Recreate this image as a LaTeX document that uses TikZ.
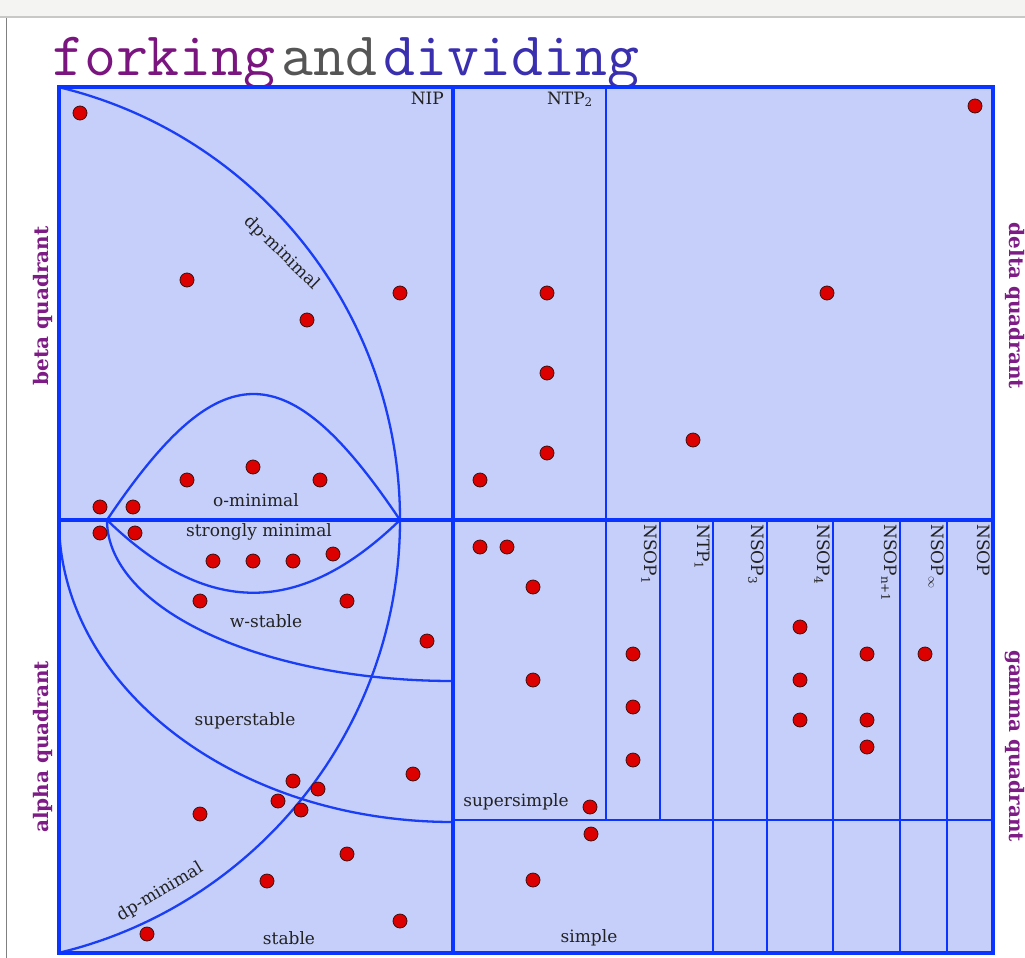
\documentclass[tikz,border=0pt]{standalone}
\usepackage{fontspec}
\setmainfont{DejaVu Serif}
\usetikzlibrary{positioning}
\definecolor{zonefill}{HTML}{C5CFF9}
\definecolor{zoneblue}{HTML}{0A34FF}
\definecolor{curveblue}{HTML}{1A3EF5}
\definecolor{dotred}{HTML}{DD0000}
\definecolor{dotedge}{HTML}{3A1010}
\definecolor{quadpurple}{HTML}{7E1C86}
\definecolor{titlepurple}{HTML}{7A1580}
\definecolor{titlegray}{HTML}{555555}
\definecolor{titleblue}{HTML}{3A2FAE}
\definecolor{labelgray}{HTML}{222222}
\definecolor{chromegray}{HTML}{F4F4F2}
\definecolor{chromeline}{HTML}{C8C8C6}

\begin{document}
\begin{tikzpicture}[x=1pt, y=-1pt,
    frame/.style={draw=zoneblue, line width=4.8pt},
    divider/.style={draw=zoneblue, line width=2.8pt},
    curve/.style={draw=curveblue, line width=2.3pt},
    zone/.style={font=\fontsize{17}{19}\selectfont, text=labelgray, inner sep=1pt},
    prop/.style={zone, rotate=-90, anchor=north west, inner sep=0pt},
    quad/.style={font=\bfseries\fontsize{20}{22}\selectfont, text=quadpurple},
    model/.style={circle, draw=dotedge, fill=dotred, line width=0.8pt, minimum size=14pt, inner sep=0pt}
  ]
    \useasboundingbox (0,0) rectangle (1025,958);
    % window chrome
    \fill[chromegray] (0,0) rectangle (1025,17);
    \draw[chromeline, line width=2pt] (0,17.5) -- (1025,17.5);
    \draw[gray, line width=1pt] (6,18) -- (6,958);

    \node[anchor=base west, inner sep=0pt, font=\ttfamily\fontsize{62}{64}\selectfont] (title) at (52,76)
      {\textcolor{titlepurple}{forking}\kern6pt\textcolor{titlegray}{and}\kern6pt\textcolor{titleblue}{dividing}};

    \fill[zonefill] (59,87) rectangle (993,953);

    % stable side
    \coordinate (lensL) at (107,520);
    \coordinate (lensR) at (400,520);
    \begin{scope}
      \clip (59,87) rectangle (453,953);
      \draw[curve] (-45,520) circle[radius=445];
    \end{scope}
    \begin{scope}
      \clip (59,520) rectangle (453,953);
      \draw[curve] (453,520) ellipse[x radius=346, y radius=161];
      \draw[curve] (453,520) ellipse[x radius=394, y radius=302];
    \end{scope}
    \draw[curve] (lensL) .. controls (220,352) and (287,352) .. (lensR);
    \draw[curve] (lensL) .. controls (207,617) and (300,617) .. (lensR);

    % simple side
    \draw[divider] (606,87) -- (606,820);
    \draw[divider] (660,520) -- (660,820);
    \foreach \x in {713,767,833,900,947}
      \draw[divider] (\x,520) -- (\x,953);
    \draw[divider] (453,820) -- (993,820);

    \draw[frame] (59,520) -- (993,520);
    \draw[frame] (453,87) -- (453,953);
    \draw[frame] (59,87) rectangle (993,953);

    \node[zone, anchor=base east] (nip) at (445,104) {NIP};
    \node[zone, anchor=base east] (ntp2) at (594,104) {NTP\textsubscript{2}};
    \node[zone, rotate=-44] (dpup) at (282,253) {dp-minimal};
    \node[zone] (omin) at (256,500) {o-minimal};
    \node[zone] (smin) at (259,532) {strongly minimal};
    \node[zone] (wst) at (266,621) {w-stable};
    \node[zone] (sst) at (245,721) {superstable};
    \node[zone, rotate=31] (dplow) at (160,892) {dp-minimal};
    \node[zone] (st) at (289,938) {stable};
    \node[zone] (ssim) at (516,802) {supersimple};
    \node[zone] (sim) at (589,938) {simple};

    \node[prop] (nsop1) at (657,524) {NSOP\textsubscript{1}};
    \node[prop] (ntp1) at (710,524) {NTP\textsubscript{1}};
    \node[prop] (nsop3) at (764,524) {NSOP\textsubscript{3}};
    \node[prop] (nsop4) at (830,524) {NSOP\textsubscript{4}};
    \node[prop] (nsopn) at (897,524) {NSOP\textsubscript{n+1}};
    \node[prop] (nsopinf) at (944,524) {NSOP$_\infty$};
    \node[prop] (nsop) at (990,524) {NSOP};

    \node[quad, rotate=90] (beta) at (43,306) {beta quadrant};
    \node[quad, rotate=90] (alpha) at (43,747) {alpha quadrant};
    \node[quad, rotate=-90] (delta) at (1015,306) {delta quadrant};
    \node[quad, rotate=-90] (gamma) at (1015,746) {gamma quadrant};

    % example theories
    \foreach [count=\i] \p in {(80,113),(187,280),(307,320),(400,293),(187,480),(253,467),(320,480),(100,507),(133,507),
        (975,106),(547,293),(827,293),(547,373),(547,453),(693,440),(480,480),
        (100,533),(135,533),(213,561),(253,561),(293,561),(333,554),(200,601),(347,601),(427,641),
        (293,781),(318,789),(278,801),(301,810),(413,774),(200,814),(347,854),(267,881),(400,921),(147,934),
        (480,547),(507,547),(533,587),(533,680),(633,654),(633,707),(633,760),(590,807),(591,834),(533,880),
        (800,627),(800,680),(800,720),(867,654),(867,720),(867,747),(925,654)}
      \node[model] (t\i) at \p {};
\end{tikzpicture}
\end{document}
